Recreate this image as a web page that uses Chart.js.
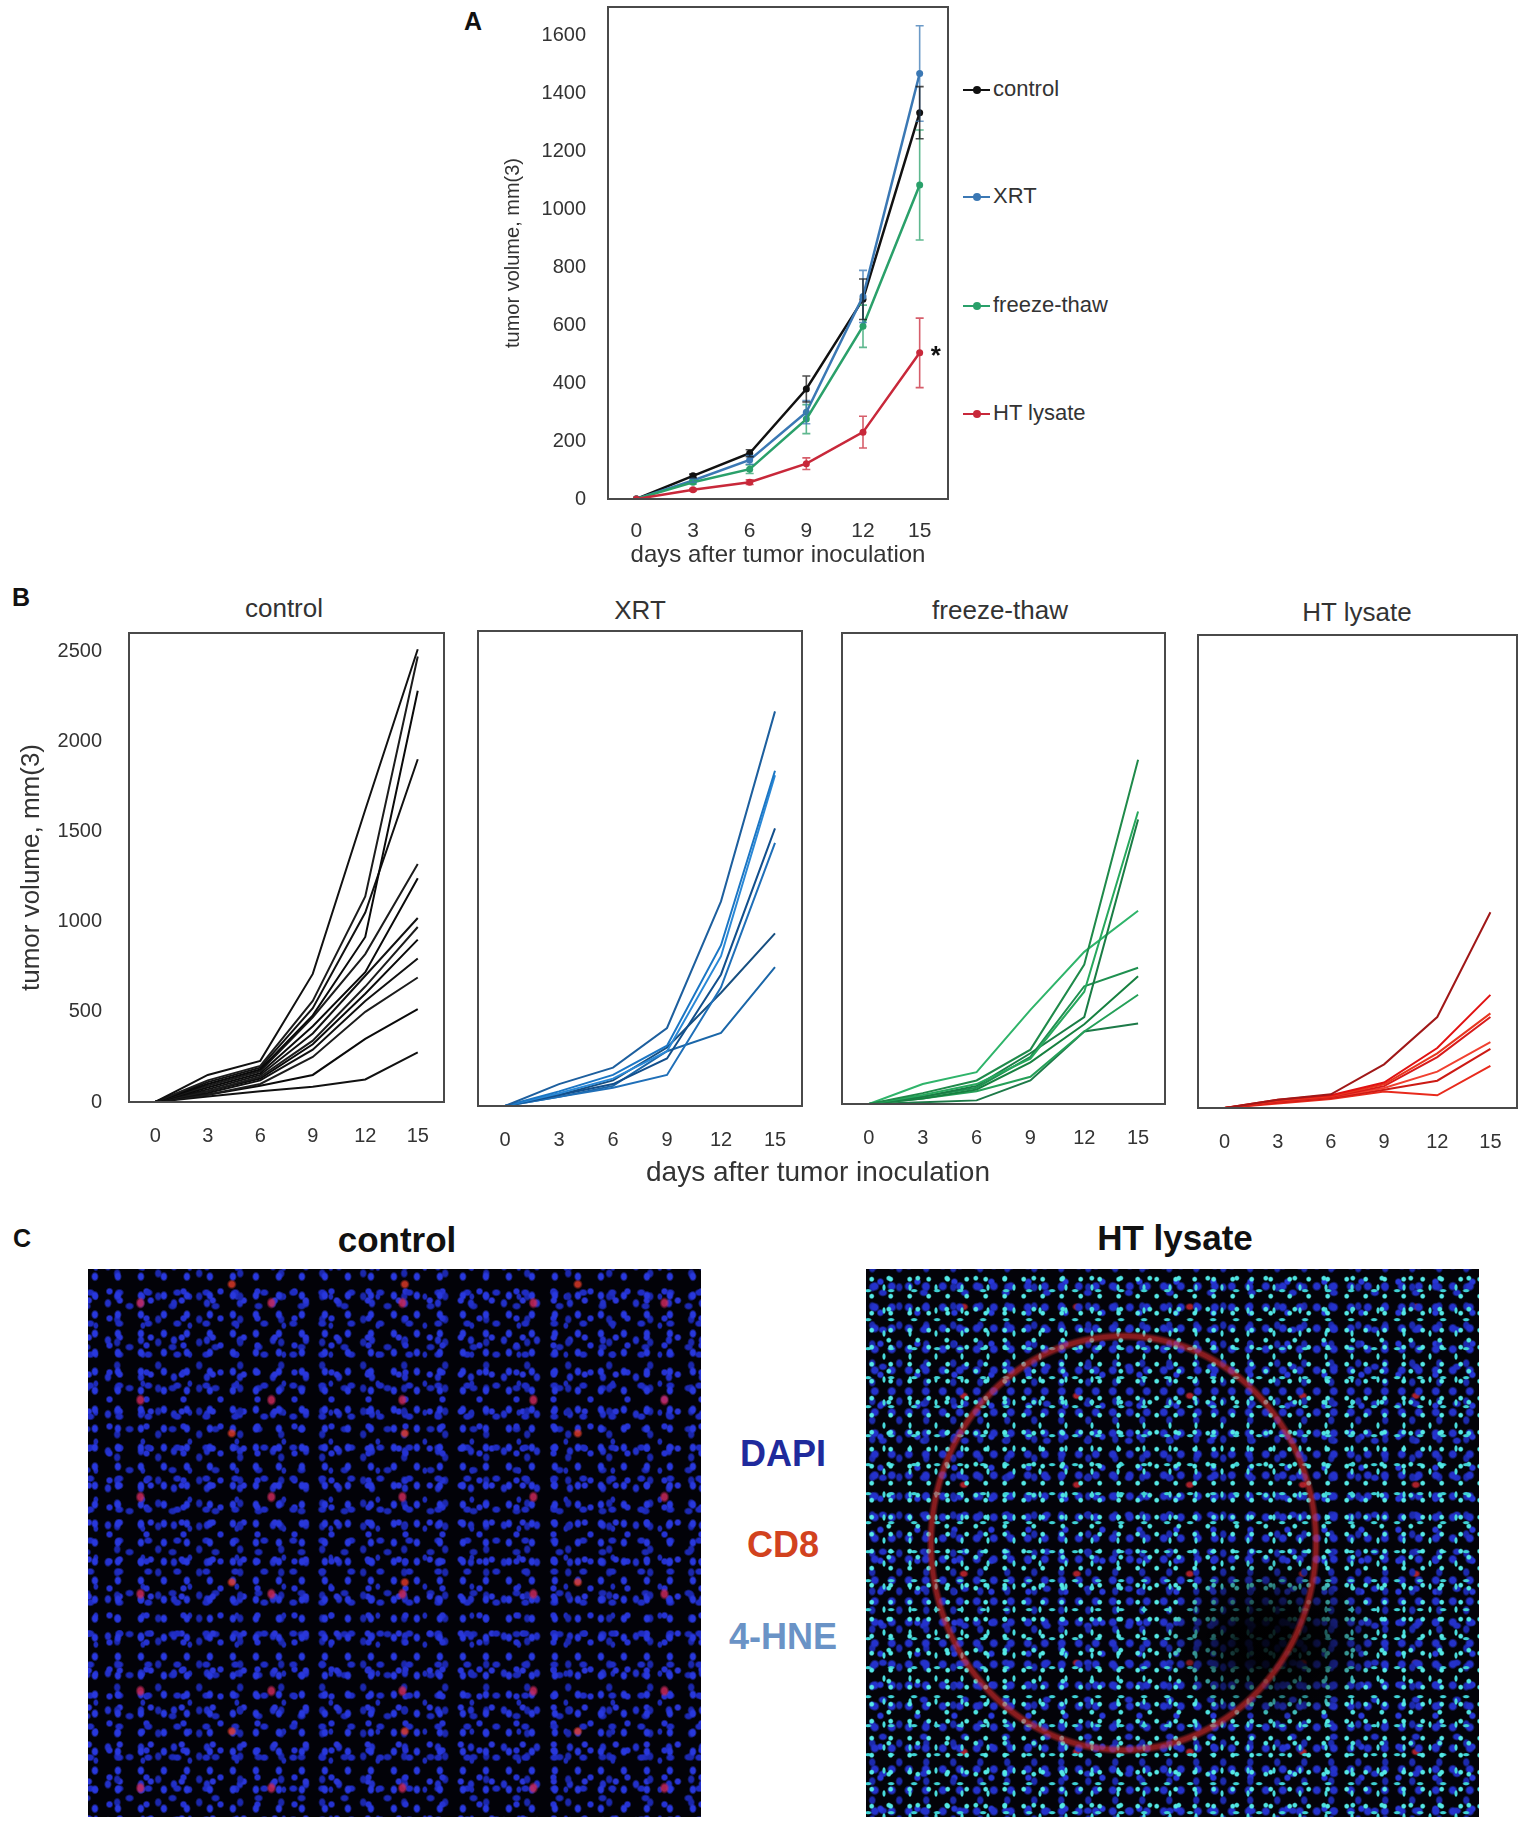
<!DOCTYPE html>
<html>
<head>
<meta charset="utf-8">
<script src="https://cdn.jsdelivr.net/npm/chart.js@4.4.1/dist/chart.umd.min.js"></script>
<style>
  body { margin: 0; background: #fff; width: 1535px; height: 1832px; position: relative; overflow: hidden;
         font-family: "Liberation Sans", Arial, sans-serif; }
  .pane { position: absolute; }
  .t { position: absolute; transform: translate(-50%, -50%); white-space: nowrap; color: #333; }
  .letter { font-weight: bold; font-size: 25px; color: #111; }
  .ptitle { font-size: 26px; }
  .ctitle { font-size: 35px; font-weight: bold; color: #111; }
  .stain { font-size: 36px; font-weight: bold; }
  .leg { position: absolute; left: 963px; transform: translateY(-50%); font-size: 22px; color: #333; white-space: nowrap; }
  .leg .mk { display: inline-block; position: relative; width: 27px; height: 2px; vertical-align: middle; margin-right: 3px; }
  .leg .mk i { position: absolute; left: 10px; top: -3px; width: 8px; height: 8px; border-radius: 50%; }
  .img { position: absolute; top: 1269px; width: 613px; height: 548px; }
  #imgControl {
    left: 88px;
    background-color: #020208;
    background-image:
      radial-gradient(5px 6px at 40% 35%, rgba(200,40,90,.85) 50%, transparent 100%),
      radial-gradient(5px 5px at 60% 70%, rgba(230,60,40,.8) 50%, transparent 100%),
      radial-gradient(4px 5px at 30% 40%, #2838de 55%, transparent 100%),
      radial-gradient(5px 4px at 70% 60%, #1f2cc2 55%, transparent 100%),
      radial-gradient(4px 4px at 50% 20%, #2532d2 55%, transparent 100%),
      radial-gradient(4px 5px at 20% 80%, #1b27ac 55%, transparent 100%),
      radial-gradient(4px 4px at 80% 50%, #2a36d8 55%, transparent 100%),
      radial-gradient(3px 4px at 55% 85%, #1e2bb8 55%, transparent 100%),
      radial-gradient(4px 5px at 15% 25%, #2230c8 55%, transparent 100%),
      radial-gradient(5px 4px at 85% 15%, #1c29b4 55%, transparent 100%);
    background-size: 131px 97px, 173px 149px, 23px 19px, 29px 31px, 37px 27px, 41px 23px, 31px 37px, 47px 29px, 33px 37px, 43px 41px;
    background-position: 0 0, 40px 60px, 0 0, 11px 5px, 3px 17px, 21px 9px, 7px 13px, 29px 3px, 15px 25px, 5px 31px;
  }
  #imgHT {
    left: 866px;
    background-color: #030309;
    background-image:
      radial-gradient(200px 215px at 42% 50%, transparent 94%, rgba(225,45,45,.6) 95.5%, rgba(225,45,45,.6) 97%, transparent 98.5%),
      radial-gradient(110px 85px at 66% 68%, rgba(0,0,0,.85) 30%, transparent 100%),
      radial-gradient(3px 3px at 30% 60%, #55eae6 55%, transparent 100%),
      radial-gradient(4px 2px at 70% 30%, #3fd2d4 55%, transparent 100%),
      radial-gradient(2px 4px at 50% 50%, #48dcdc 55%, transparent 100%),
      radial-gradient(3px 3px at 20% 20%, #4ee4e0 55%, transparent 100%),
      radial-gradient(5px 5px at 40% 30%, #2432cc 55%, transparent 100%),
      radial-gradient(4px 5px at 75% 70%, #1c2aae 55%, transparent 100%),
      radial-gradient(4px 4px at 20% 80%, #2838d8 55%, transparent 100%),
      radial-gradient(5px 4px at 85% 40%, #2230c4 55%, transparent 100%),
      radial-gradient(5px 4px at 60% 20%, rgba(210,40,50,.8) 50%, transparent 100%);
    background-size: 100% 100%, 100% 100%, 19px 17px, 23px 29px, 26px 23px, 29px 31px, 17px 21px, 27px 19px, 37px 31px, 41px 37px, 113px 89px;
    background-position: 0 0, 0 0, 0 0, 9px 13px, 5px 7px, 17px 3px, 2px 11px, 13px 5px, 7px 19px, 23px 9px, 30px 20px;
  }
</style>
</head>
<body>

<div class="t letter" style="left:473px; top:21px;">A</div>
<div class="pane" style="left:460px; top:0px; width:500px; height:580px;"><canvas id="chartA"></canvas></div>
<div id="legendA"></div>

<div class="t letter" style="left:21px; top:597px;">B</div>
<div class="t ptitle" style="left:284px; top:608px;">control</div>
<div class="t ptitle" style="left:640px; top:610px;">XRT</div>
<div class="t ptitle" style="left:1000px; top:610px;">freeze-thaw</div>
<div class="t ptitle" style="left:1357px; top:612px;">HT lysate</div>
<div class="pane" style="left:0px; top:620px; width:455px; height:540px;"><canvas id="chartB1"></canvas></div>
<div class="pane" style="left:470px; top:620px; width:345px; height:540px;"><canvas id="chartB2"></canvas></div>
<div class="pane" style="left:830px; top:620px; width:345px; height:540px;"><canvas id="chartB3"></canvas></div>
<div class="pane" style="left:1185px; top:620px; width:345px; height:540px;"><canvas id="chartB4"></canvas></div>
<div class="t" style="left:818px; top:1172px; font-size:28px;">days after tumor inoculation</div>

<div class="t letter" style="left:22px; top:1238px;">C</div>
<div class="t ctitle" style="left:397px; top:1240px;">control</div>
<div class="t ctitle" style="left:1175px; top:1238px;">HT lysate</div>
<div class="img" id="imgControl"></div>
<div class="img" id="imgHT"></div>
<div class="t stain" style="left:783px; top:1454px; color:#1f2a9c;">DAPI</div>
<div class="t stain" style="left:783px; top:1545px; color:#d2421e;">CD8</div>
<div class="t stain" style="left:783px; top:1637px; color:#6a93c6;">4-HNE</div>

<script>
Chart.defaults.font.family = '"Liberation Sans", Arial, sans-serif';

// days after inoculation
var days = [0, 3, 6, 9, 12, 15];
var dayTicks = [0, 3, 6, 9, 12, 15];

// panel A: group means and error bars
var groups = ['control', 'XRT', 'freeze-thaw', 'HT lysate'];
var meanControl = [0, 80, 158, 380, 690, 1335];
var meanXRT = [0, 64, 135, 300, 700, 1470];
var meanFreeze = [0, 58, 103, 276, 597, 1085];
var meanHT = [0, 32, 58, 122, 231, 505];
var errControl = [0, 6, 12, 45, 70, 90];
var errXRT = [0, 6, 15, 40, 90, 165];
var errFreeze = [0, 6, 15, 50, 73, 190];
var errHT = [0, 4, 8, 20, 55, 120];
var ticksA = [0, 200, 400, 600, 800, 1000, 1200, 1400, 1600];

// panel B: single mice
var ticksB = [0, 500, 1000, 1500, 2000, 2500];
var miceControl = [
  [0, 150, 228, 710, 1620, 2510],
  [0, 120, 200, 560, 1140, 2470],
  [0, 100, 180, 480, 915, 2280],
  [0, 110, 190, 520, 1050, 1900],
  [0, 90, 170, 470, 820, 1320],
  [0, 80, 160, 420, 720, 1240],
  [0, 70, 150, 380, 700, 1020],
  [0, 60, 140, 340, 640, 970],
  [0, 60, 130, 320, 600, 900],
  [0, 50, 120, 290, 560, 795],
  [0, 40, 100, 250, 500, 690],
  [0, 40, 90, 150, 350, 515],
  [0, 30, 60, 85, 125, 275]
];
var miceXRT = [
  [0, 120, 210, 427, 1120, 2160],
  [0, 80, 170, 330, 880, 1835],
  [0, 70, 150, 300, 820, 1810],
  [0, 60, 120, 260, 720, 1520],
  [0, 50, 100, 170, 650, 1440],
  [0, 60, 140, 320, 620, 945],
  [0, 50, 110, 300, 400, 760]
];
var miceFreeze = [
  [0, 60, 130, 300, 770, 1900],
  [0, 50, 110, 250, 620, 1615],
  [0, 40, 100, 280, 480, 1570],
  [0, 110, 176, 520, 840, 1067],
  [0, 40, 90, 260, 650, 752],
  [0, 30, 80, 230, 440, 705],
  [0, 30, 70, 150, 400, 603],
  [0, 10, 20, 130, 400, 445]
];
var miceHT = [
  [0, 45, 75, 240, 500, 1076],
  [0, 45, 70, 140, 330, 622],
  [0, 40, 65, 130, 300, 520],
  [0, 35, 60, 120, 280, 500],
  [0, 35, 60, 110, 200, 362],
  [0, 30, 55, 100, 150, 325],
  [0, 25, 50, 90, 70, 232]
];

var groupColors = ['#111111', '#3b78b4', '#2aa06a', '#c8283a'];
var blues = ['#1d5f9e', '#1b76c4', '#2a88d6', '#124f8c', '#1f6fb8', '#174f80', '#1a66a8'];
var greens = ['#1f8a4a', '#27a85d', '#1a7d45', '#2fb46a', '#1f9050', '#178040', '#25a058', '#1d7a48'];
var reds = ['#a01818', '#e01212', '#e8361e', '#d81a1a', '#f04030', '#cc1a14', '#e82a1c'];

// fixed axis sizes so the frames land where the figure has them
function fixWidth(w) {
  return function (s) { s.width = w; s.paddingTop = 0; s.paddingBottom = 0; };
}
function fixHeight(h) {
  return function (s) { s.height = h; s.paddingLeft = 0; s.paddingRight = 0; };
}
function setTicks(list) {
  return function (s) { s.ticks = list.map(function (v) { return { value: v }; }); };
}
function plain(v) { return String(v); }
function toPoints(vals) {
  return days.map(function (d, i) { return { x: d, y: vals[i] }; });
}

// frame round the plot area
var boxPlugin = {
  id: 'box',
  afterDraw: function (chart) {
    var a = chart.chartArea, ctx = chart.ctx;
    ctx.save();
    ctx.strokeStyle = '#4a4a4a';
    ctx.lineWidth = 2;
    ctx.strokeRect(a.left, a.top, a.right - a.left, a.bottom - a.top);
    ctx.restore();
  }
};

// error bars + significance mark for panel A
var errorPlugin = {
  id: 'errbars',
  afterDatasetsDraw: function (chart) {
    var ctx = chart.ctx, xs = chart.scales.x, ys = chart.scales.y;
    ctx.save();
    chart.data.datasets.forEach(function (ds) {
      ctx.strokeStyle = ds.borderColor;
      ctx.globalAlpha = 0.75;
      ctx.lineWidth = 1.6;
      ds.errors.forEach(function (e, i) {
        if (!e) return;
        var px = xs.getPixelForValue(days[i]);
        var top = ys.getPixelForValue(ds.data[i].y + e);
        var bot = ys.getPixelForValue(ds.data[i].y - e);
        ctx.beginPath();
        ctx.moveTo(px, top); ctx.lineTo(px, bot);
        ctx.moveTo(px - 4, top); ctx.lineTo(px + 4, top);
        ctx.moveTo(px - 4, bot); ctx.lineTo(px + 4, bot);
        ctx.stroke();
      });
    });
    ctx.globalAlpha = 1;
    ctx.fillStyle = '#111';
    ctx.font = 'bold 26px "Liberation Sans", Arial';
    ctx.textAlign = 'center';
    ctx.textBaseline = 'middle';
    ctx.fillText('*', xs.getPixelForValue(15.85), ys.getPixelForValue(meanHT[5]) + 4);
    ctx.restore();
  }
};

var meansA = [meanControl, meanXRT, meanFreeze, meanHT];
var errsA = [errControl, errXRT, errFreeze, errHT];

var chartA = new Chart('chartA', {
  type: 'line',
  data: {
    datasets: groups.map(function (g, k) {
      return {
        label: g,
        data: toPoints(meansA[k]),
        errors: errsA[k],
        borderColor: groupColors[k],
        backgroundColor: groupColors[k],
        borderWidth: 2.5,
        pointRadius: 3.5,
        pointBorderWidth: 0,
        tension: 0
      };
    }).reverse()
  },
  options: {
    responsive: true,
    maintainAspectRatio: false,
    animation: false,
    layout: { padding: { top: 7, right: 12 } },
    plugins: { legend: { display: false }, tooltip: { enabled: false } },
    scales: {
      x: {
        type: 'linear', min: -1.5, max: 16.5,
        afterBuildTicks: setTicks(dayTicks),
        afterFit: fixHeight(81),
        grid: { display: false }, border: { display: false },
        ticks: { font: { size: 21 }, color: '#333', padding: 12, callback: plain },
        title: { display: true, text: 'days after tumor inoculation', font: { size: 24 }, color: '#333', padding: { top: 0, bottom: 10 } }
      },
      y: {
        min: 0, max: 1700,
        afterBuildTicks: setTicks(ticksA),
        afterFit: fixWidth(148),
        grid: { display: false }, border: { display: false },
        ticks: { font: { size: 20 }, color: '#333', padding: 14, callback: plain },
        title: { display: true, text: 'tumor volume, mm(3)', font: { size: 20 }, color: '#333', padding: { top: 41, bottom: 0 } }
      }
    }
  },
  plugins: [boxPlugin, errorPlugin]
});

// legend of panel A, placed to the right of the frame
var legendY = [89, 196, 305, 413];
var legendBox = document.getElementById('legendA');
groups.forEach(function (g, k) {
  var div = document.createElement('div');
  div.className = 'leg';
  div.style.top = legendY[k] + 'px';
  div.innerHTML = '<span class="mk" style="background:' + groupColors[k] + '"><i style="background:' +
    groupColors[k] + '"></i></span>' + g;
  legendBox.appendChild(div);
});

function spaghetti(id, mice, colors, opt) {
  return new Chart(id, {
    type: 'line',
    data: {
      datasets: mice.map(function (m, k) {
        return {
          data: toPoints(m),
          borderColor: colors[k % colors.length],
          borderWidth: 2,
          pointRadius: 0,
          tension: 0
        };
      })
    },
    options: {
      responsive: true,
      maintainAspectRatio: false,
      animation: false,
      layout: { padding: opt.pad },
      plugins: { legend: { display: false }, tooltip: { enabled: false } },
      scales: {
        x: {
          type: 'linear', min: -1.5, max: 16.5,
          afterBuildTicks: setTicks(dayTicks),
          afterFit: fixHeight(opt.xh),
          grid: { display: false }, border: { display: false },
          ticks: { font: { size: 20 }, color: '#333', padding: 14, callback: plain }
        },
        y: {
          display: opt.showY,
          min: 0, max: 2600,
          afterBuildTicks: setTicks(ticksB),
          afterFit: fixWidth(opt.showY ? 129 : 0),
          grid: { display: false }, border: { display: false },
          ticks: { font: { size: 20 }, color: '#333', padding: 19, callback: plain },
          title: { display: true, text: 'tumor volume, mm(3)', font: { size: 26 }, color: '#333', padding: { top: 16, bottom: 0 } }
        }
      }
    },
    plugins: [boxPlugin]
  });
}

spaghetti('chartB1', miceControl, ['#111111', '#1c1c1c', '#0a0a0a'], { showY: true, xh: 58, pad: { top: 13, right: 11 } });
spaghetti('chartB2', miceXRT, blues, { showY: false, xh: 54, pad: { top: 11, left: 8, right: 13 } });
spaghetti('chartB3', miceFreeze, greens, { showY: false, xh: 56, pad: { top: 13, left: 12, right: 10 } });
spaghetti('chartB4', miceHT, reds, { showY: false, xh: 52, pad: { top: 15, left: 13, right: 13 } });
</script>
</body>
</html>
